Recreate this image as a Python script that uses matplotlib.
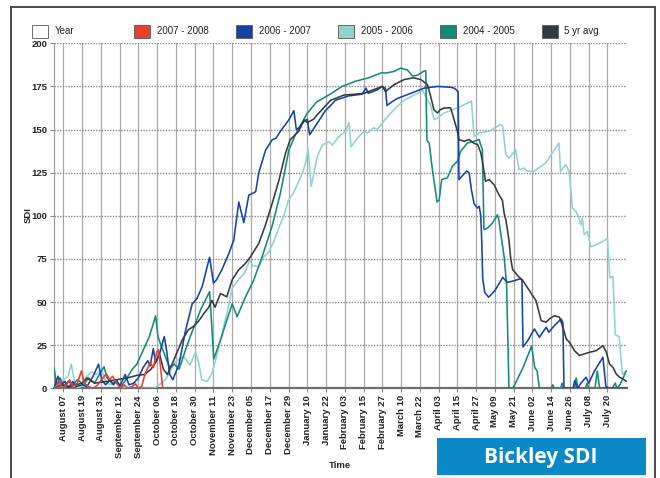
import matplotlib
matplotlib.use("Agg")
import matplotlib.pyplot as plt
from matplotlib.patches import Rectangle

plt.rcParams['font.family'] = ['Liberation Sans', 'DejaVu Sans']

# x = days since August 01, y = SDI
tick_labels = ["August 07", "August 19", "August 31", "September 12", "September 24",
               "October 06", "October 18", "October 30", "November 11", "November 23",
               "December 05", "December 17", "December 29", "January 10", "January 22",
               "February 03", "February 15", "February 27", "March 10", "March 22",
               "April 03", "April 15", "April 27", "May 09", "May 21",
               "June 02", "June 14", "June 26", "July 08", "July 20"]
tick_days = [6 + 12 * i for i in range(len(tick_labels))]
y_ticks = [0, 25, 50, 75, 100, 125, 150, 175, 200]

sdi_2007 = [(0, 0), (2, 1), (3.5, 4.5), (5, 0), (8, 2), (10, 5), (12, 1), (15, 3), (17.5, 10),
            (19.5, 3), (22, 1), (25, 0), (28, 2), (30, 4.5), (33.5, 8.5), (35.5, 5), (37.5, 7),
            (40, 3), (42, 0.5), (45, 2), (47, 0), (50, 1), (52, 2.5), (54, 0), (56, 1),
            (58.3, 8.5), (61.5, 15), (63.6, 12), (65.7, 21), (66.8, 22.5), (68.3, 11), (69.5, 0)]

sdi_2006 = [(0, 0), (2.5, 7), (4.5, 2), (7, 4), (9, 0), (12, 4), (14, 1), (18, 2), (21, 1),
            (25, 7), (28.5, 14), (30.5, 5), (33, 2), (36, 5), (38, 2), (40, 5), (42, 1),
            (45.5, 8), (48, 2), (51, 3), (54, 6), (57, 12), (60, 16), (61.5, 13), (63.5, 23),
            (65, 15), (67.5, 20), (70.5, 30), (72, 22), (74, 8), (76, 5), (80, 14), (84, 33),
            (88.4, 49), (91.4, 52), (94.8, 59), (99.5, 76), (102, 61), (104, 63), (107.5, 69),
            (111.8, 78), (115, 86), (118.2, 108), (121.4, 96), (124.6, 112), (127, 113),
            (129, 114), (131, 125), (135.3, 138), (139.5, 144), (142, 145), (144.8, 149),
            (150.2, 155.6), (153.4, 161), (155, 150), (156.6, 151), (159.8, 154.6), (162, 156),
            (163.5, 147), (167.2, 152), (173.6, 161), (177, 164), (180, 167), (188.5, 169.5),
            (197, 170.5), (199.5, 174), (201, 171), (206.8, 173), (209.8, 175), (212, 174),
            (213, 164), (216, 166), (219.6, 168), (228.2, 171), (236.7, 174), (245.3, 175),
            (253.8, 174.5), (256, 174), (258.5, 172), (259, 121), (264, 126), (265.5, 125),
            (267, 115), (268.7, 107), (270.8, 104.5), (272, 105.5), (273, 99.6), (273.6, 85),
            (274.2, 64), (275.5, 55.6), (278, 52.8), (282, 56.6), (287, 64.3), (290, 61.4),
            (294.5, 62.4), (297.7, 63.4), (299.3, 63), (300, 24), (303, 27.6), (307.3, 34.4),
            (310.5, 29.6), (314.8, 35.4), (316.5, 32.5), (320, 36.3), (324.4, 40.2),
            (325.5, 38), (326.2, 0), (332, 0), (333, 4.4), (335, 0), (337, 3), (340.3, 6.4),
            (342, 3), (345.8, 10.2), (351.1, 18), (353, 1), (355, 0), (366, 0)]

sdi_2005 = [(0, 12), (2, 0), (5, 4), (9, 7), (11, 14), (13, 5), (15, 0), (19, 2), (21, 7),
            (24, 9.5), (27, 8), (30.5, 10.5), (33, 4), (36, 2), (40, 3), (44, 1), (48, 0),
            (52, 3), (55, 0), (64, 0), (67, 2), (69, 3), (72, 6), (77.7, 15.5), (83, 18.4),
            (87, 13.5), (90.5, 21), (92.6, 14.5), (94.5, 5), (98, 3.9), (101, 8.7), (104, 18.4),
            (107.5, 31.9), (111, 45), (114, 58), (118, 63), (122, 67), (125, 74), (127.5, 71),
            (131, 70.5), (134, 76), (137.4, 79), (140, 84), (143.8, 93), (147, 100), (150, 109),
            (153, 113), (156, 119), (159, 125), (161, 131), (162.5, 139), (164.5, 117),
            (168.4, 134.6), (171.6, 141), (175.9, 143), (178, 141), (182.3, 146), (186.6, 149),
            (188.7, 154), (190, 140), (194, 145), (198.3, 149), (200.4, 148), (204.7, 151),
            (206.8, 150), (211.1, 155), (215.4, 159.6), (219.6, 163.5), (223.9, 167),
            (228.2, 169), (232.5, 171), (235.7, 173), (237.8, 169), (241, 164), (243.1, 155.8),
            (245.3, 156.7), (249.5, 159.6), (258, 162.5), (262.3, 164.4), (267, 166.5),
            (268.7, 146), (271.9, 148), (278.3, 149), (285.7, 153), (287, 152), (289, 135.5),
            (291.2, 133.5), (295.3, 138.4), (297.5, 126.7), (300.7, 127.7), (302.8, 125.8),
            (307, 125.8), (314.5, 130.6), (323, 142.2), (324, 125.8), (327.3, 129.7),
            (329.5, 125.8), (331.6, 104.5), (333.8, 102.5), (335.9, 98.6), (337, 94.7),
            (338, 98.6), (339.1, 89), (341.2, 91), (343.3, 82.2), (346.5, 83), (350.8, 85),
            (354, 87), (355.5, 64), (357.5, 65), (359, 31), (361.5, 30), (363.5, 8), (366, 10)]

sdi_2004 = [(0, 12), (1.5, 2), (4, 6), (6, 1), (9, 4), (12, 2), (15, 5), (19, 2), (22, 6),
            (26, 3), (29, 8), (32, 12.5), (34, 6), (37, 3), (40, 4), (43, 1), (46, 5), (50, 11),
            (53, 14), (57, 22), (61, 30), (63, 36), (65, 42), (66.5, 30), (68, 26), (70.5, 20),
            (74, 12), (77, 14), (80, 11), (84, 22), (88, 32), (91, 39), (94, 46), (99.5, 56),
            (101, 35), (102.2, 17), (106.5, 28), (110, 38), (114, 49), (117.1, 41.5),
            (122.5, 53), (127.8, 62.8), (133, 76), (139.5, 94), (144.8, 113), (150.2, 138),
            (154.4, 147), (162, 159.5), (168, 166), (175.7, 170), (184.3, 175), (192.8, 178),
            (201.3, 180), (209.8, 183), (212.2, 182.7), (217.5, 183.7), (221.8, 185.6),
            (226, 184.6), (229.3, 181), (232.5, 181.5), (236.8, 184), (237.8, 184),
            (238.5, 144), (240, 142), (242, 127), (245, 108), (246.3, 109), (248, 121),
            (251.6, 122), (254.8, 128.7), (258, 131.6), (260.1, 137.4), (264.4, 142.2),
            (268.7, 143.2), (271.9, 144.2), (273, 141), (274, 138.4), (275, 92), (277.2, 92.8),
            (280.4, 95.7), (283.6, 100.6), (284.5, 97.7), (285.7, 90), (287.9, 76.4),
            (289.5, 60), (291, 0), (293.5, 0), (300, 12), (305.5, 24.5), (307.5, 12), (309, 10),
            (310.5, 0), (318, 0), (319, 2), (320, 0), (324, 0), (325, 3), (326, 0), (333, 0),
            (334, 6), (335, 0), (340, 0), (341, 3), (342, 0), (346, 0), (347.5, 10), (349, 0),
            (357, 0), (359, 3), (360, 0), (362, 2), (366, 10)]

sdi_avg = [(0, 0), (5, 2), (10, 1), (18, 3), (21, 6), (26, 3), (34, 4), (40, 5), (47, 6),
           (53, 7.5), (58, 8), (62, 11), (65, 15), (67.5, 20), (70, 11), (72.5, 8), (76, 15),
           (82, 28), (86, 34), (89.5, 36), (92.5, 39), (96, 43.5), (99, 47), (101, 51),
           (103, 47), (106.5, 55), (110.5, 53), (114, 63), (118, 68.5), (122.5, 72.5),
           (125.5, 76), (131, 84), (135, 94), (139.5, 107), (144, 121), (148, 136), (151, 144),
           (156.5, 149), (160, 155.6), (162, 154), (166, 156), (168.4, 158.6), (177, 167),
           (185.5, 170), (192.8, 170.5), (198.3, 171), (204, 173), (210, 175), (212, 172),
           (217.5, 176), (224, 179), (230, 180), (234.6, 179), (238.9, 176), (241, 169),
           (243, 161.5), (245.3, 159.6), (247, 161.5), (249.5, 162.5), (253.7, 162.6),
           (255.9, 155.8), (258, 149), (259, 144.2), (262.3, 143.2), (265.5, 144.2),
           (268.7, 142), (271, 141.3), (273, 136.4), (274, 131.6), (276, 120), (278.3, 121),
           (281.5, 118), (284.7, 112), (286.8, 109), (287.9, 101.5), (289, 97.7), (291, 86),
           (292.1, 75.4), (293.3, 69), (296.6, 65.3), (299.9, 62.4), (304.1, 56.6),
           (308.3, 50.8), (311.6, 39.2), (314.8, 38.3), (316.9, 40.2), (320.1, 42.1),
           (323.3, 41.2), (325.5, 35.4), (327.6, 28.6), (329.7, 26.7), (332.9, 21.8),
           (336.1, 19), (339.3, 20), (342.6, 20.9), (346.8, 21.8), (351.1, 24.7),
           (353.3, 20.9), (355.3, 14.1), (357.5, 12.2), (359.6, 8.3), (361.8, 6.4),
           (364, 5.4), (366, 4)]

legend_names = ["Year", "2007 - 2008", "2006 - 2007", "2005 - 2006", "2004 - 2005", "5 yr avg"]
legend_colors = ["#ffffff", "#e8412b", "#1542a8", "#8fd3cf", "#15897a", "#363a3d"]

W, H = 660, 478
fig = plt.figure(figsize=(W / 100, H / 100), dpi=100)
fig.patch.set_facecolor("white")

ax = fig.add_axes([54 / W, 1 - 388.3 / H, 573 / W, 345 / H])

# draw order: light cyan, teal, blue, avg, red
plot_order = [(sdi_2005, legend_colors[3]), (sdi_2004, legend_colors[4]),
              (sdi_2006, legend_colors[2]), (sdi_avg, legend_colors[5]),
              (sdi_2007, legend_colors[1])]
for series, color in plot_order:
    xs = [p[0] for p in series]
    ys = [p[1] for p in series]
    ax.plot(xs, ys, color=color, lw=1.15, zorder=3)

ax.set_xlim(0, 366.5)
ax.set_ylim(0, 200)
ax.set_xticks(tick_days)
ax.set_xticklabels(tick_labels, rotation=90, fontsize=6.8, fontweight="bold", color="#222222")
ax.set_yticks(y_ticks)
ax.set_yticklabels([str(v) for v in y_ticks], fontsize=6.8, fontweight="bold", color="#222222")
ax.tick_params(axis="both", length=3, width=0.8, color="#888888", pad=2)

ax.grid(axis="x", color="#a8a8a8", lw=0.9, ls="-", zorder=1)
ax.grid(axis="y", color="#8a8a8a", lw=1.0, ls=(0, (1, 1)), zorder=1)
ax.set_axisbelow(True)
for side in ["top", "right"]:
    ax.spines[side].set_visible(False)
ax.spines["left"].set_color("#999999")
ax.spines["left"].set_linewidth(0.8)
ax.spines["bottom"].set_color("#6e6e6e")
ax.spines["bottom"].set_linewidth(1.6)

fig.text(28 / W, 1 - 215 / H, "SDI", rotation=90, ha="center", va="center",
         fontsize=6.8, fontweight="bold", color="#222222")
fig.text(340 / W, 1 - 465 / H, "Time", ha="center", va="center",
         fontsize=6.8, fontweight="bold", color="#222222")

# legend row
for i, (name, color) in enumerate(zip(legend_names, legend_colors)):
    xl = 32 + 101.9 * i
    fig.patches.append(Rectangle((xl / W, 1 - 38 / H), 16 / W, 13 / H, transform=fig.transFigure,
                                 fc=color, ec="#555555", lw=0.6))
    fig.text((xl + 23) / W, 1 - 31.5 / H, name, ha="left", va="center",
             fontsize=7, color="#222222")

# outer frame
fig.patches.append(Rectangle((11 / W, -0.02), 644 / W, 1 - 7 / H + 0.02, transform=fig.transFigure,
                             fill=False, ec="#4a4a4a", lw=1.4))

# title badge
fig.patches.append(Rectangle((437 / W, 3 / H), 209 / W, 37 / H, transform=fig.transFigure,
                             fc="#0b88c6", ec="none", zorder=5))
fig.text(541 / W, 1 - 457 / H, "Bickley SDI", ha="center", va="center", fontsize=15,
         fontweight="bold", color="white", family=["Open Sans", "DejaVu Sans"], zorder=6)

fig.savefig("out.png", dpi=100)
